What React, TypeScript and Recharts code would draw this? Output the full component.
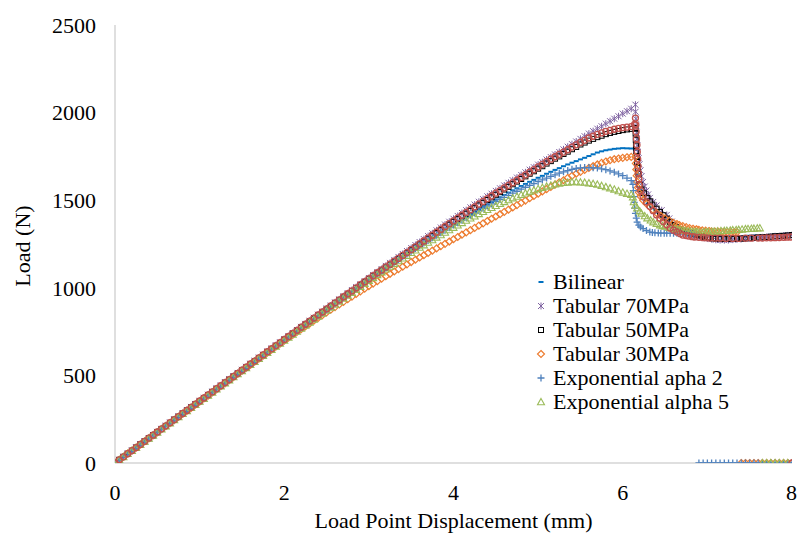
import React from "react";
import { ScatterChart, Scatter, XAxis, YAxis, Legend, Label } from "recharts";

// Rising branch: shared displacement stations (mm), every 0.05 mm
const disp = [
  0, 0.05, 0.1, 0.15, 0.2, 0.25, 0.3, 0.35, 0.4, 0.45, 0.5, 0.55, 0.6, 0.65, 0.7, 0.75,
  0.8, 0.85, 0.9, 0.95, 1.0, 1.05, 1.1, 1.15, 1.2, 1.25, 1.3, 1.35, 1.4, 1.45, 1.5, 1.55,
  1.6, 1.65, 1.7, 1.75, 1.8, 1.85, 1.9, 1.95, 2.0, 2.05, 2.1, 2.15, 2.2, 2.25, 2.3, 2.35,
  2.4, 2.45, 2.5, 2.55, 2.6, 2.65, 2.7, 2.75, 2.8, 2.85, 2.9, 2.95, 3.0, 3.05, 3.1, 3.15,
  3.2, 3.25, 3.3, 3.35, 3.4, 3.45, 3.5, 3.55, 3.6, 3.65, 3.7, 3.75, 3.8, 3.85, 3.9, 3.95,
  4.0, 4.05, 4.1, 4.15, 4.2, 4.25, 4.3, 4.35, 4.4, 4.45, 4.5, 4.55, 4.6, 4.65, 4.7, 4.75,
  4.8, 4.85, 4.9, 4.95, 5.0, 5.05, 5.1, 5.15, 5.2, 5.25, 5.3, 5.35, 5.4, 5.45, 5.5, 5.55,
  5.6, 5.65, 5.7, 5.75, 5.8, 5.85, 5.9, 5.95, 6.0, 6.05, 6.1,
];

// Loads (N) on the rising branch, one per displacement station
const bilinearLoad = [
  0, 18, 35, 53, 70, 88, 105, 123, 141, 158, 176, 193, 211, 228, 246, 263, 281, 298,
  316, 333, 351, 368, 386, 403, 421, 438, 456, 473, 491, 508, 526, 543, 561, 578, 596,
  613, 631, 648, 666, 683, 701, 718, 736, 753, 771, 788, 805, 822, 840, 857, 874, 891,
  909, 926, 943, 960, 977, 994, 1011, 1028, 1045, 1062, 1079, 1095, 1112, 1128, 1145,
  1161, 1178, 1194, 1210, 1225, 1241, 1256, 1272, 1287, 1302, 1317, 1332, 1347, 1362,
  1376, 1391, 1405, 1420, 1434, 1448, 1462, 1476, 1489, 1503, 1516, 1530, 1543, 1556,
  1568, 1581, 1593, 1605, 1616, 1628, 1639, 1651, 1662, 1673, 1683, 1694, 1704, 1714,
  1723, 1733, 1742, 1752, 1762, 1772, 1779, 1785, 1789, 1793, 1795, 1797, 1796, 1795,
];
const tab70Load = [
  0, 18, 36, 53, 71, 89, 107, 124, 142, 160, 178, 195, 213, 231, 249, 266, 284, 302,
  320, 337, 355, 372, 390, 408, 426, 443, 461, 478, 496, 514, 532, 549, 567, 584, 602,
  619, 637, 654, 672, 689, 707, 724, 742, 759, 777, 794, 812, 829, 847, 864, 882, 899,
  917, 934, 952, 969, 987, 1004, 1021, 1038, 1056, 1073, 1090, 1107, 1125, 1142, 1159,
  1176, 1193, 1210, 1227, 1244, 1261, 1278, 1295, 1311, 1328, 1344, 1361, 1377, 1394,
  1410, 1427, 1443, 1459, 1475, 1491, 1506, 1522, 1537, 1553, 1568, 1584, 1599, 1614,
  1629, 1644, 1659, 1674, 1688, 1703, 1717, 1732, 1746, 1761, 1775, 1790, 1805, 1820,
  1835, 1850, 1865, 1880, 1894, 1908, 1922, 1937, 1951, 1965, 1979, 1994, 2008, 2022,
];
const tab50Load = [
  0, 18, 35, 53, 70, 88, 106, 123, 141, 158, 176, 194, 211, 229, 247, 264, 282, 299,
  317, 335, 352, 370, 387, 405, 423, 440, 458, 475, 493, 510, 528, 545, 563, 580, 598,
  615, 633, 650, 668, 685, 703, 720, 738, 755, 773, 790, 808, 825, 843, 860, 877, 894,
  912, 929, 946, 963, 981, 998, 1015, 1032, 1049, 1066, 1083, 1099, 1116, 1132, 1149,
  1165, 1182, 1198, 1215, 1231, 1248, 1264, 1281, 1297, 1313, 1329, 1345, 1361, 1377,
  1392, 1408, 1423, 1439, 1454, 1470, 1485, 1501, 1516, 1531, 1546, 1561, 1576, 1591,
  1606, 1621, 1636, 1651, 1665, 1680, 1694, 1709, 1723, 1737, 1750, 1764, 1777, 1791,
  1804, 1818, 1829, 1840, 1850, 1860, 1868, 1877, 1884, 1890, 1895, 1900, 1904, 1907,
];
const tab30Load = [
  0, 18, 35, 53, 70, 88, 105, 123, 140, 158, 175, 193, 210, 228, 245, 263, 280, 298,
  315, 333, 350, 368, 385, 403, 420, 438, 455, 473, 490, 508, 525, 543, 560, 578, 595,
  613, 630, 647, 664, 681, 698, 715, 731, 748, 764, 780, 796, 812, 828, 844, 859, 875,
  890, 905, 920, 935, 950, 965, 980, 995, 1010, 1024, 1038, 1052, 1066, 1080, 1093,
  1107, 1120, 1134, 1147, 1160, 1173, 1186, 1199, 1212, 1225, 1238, 1251, 1264, 1277,
  1290, 1303, 1316, 1329, 1342, 1355, 1368, 1381, 1394, 1407, 1420, 1433, 1446, 1459,
  1472, 1485, 1498, 1511, 1524, 1537, 1550, 1563, 1576, 1589, 1602, 1614, 1627, 1639,
  1651, 1662, 1673, 1684, 1694, 1704, 1713, 1721, 1728, 1734, 1738, 1742, 1745, 1747,
];
const exp2Load = [
  0, 18, 35, 53, 70, 88, 106, 123, 141, 158, 176, 193, 211, 228, 246, 264, 281, 299,
  317, 334, 352, 369, 387, 404, 422, 439, 457, 474, 492, 509, 527, 544, 562, 579, 597,
  614, 632, 649, 667, 684, 702, 719, 737, 754, 772, 789, 806, 823, 841, 858, 875, 892,
  910, 927, 944, 961, 978, 995, 1012, 1029, 1046, 1063, 1080, 1096, 1113, 1129, 1146,
  1162, 1178, 1193, 1209, 1224, 1240, 1255, 1270, 1285, 1300, 1314, 1329, 1343, 1358,
  1372, 1386, 1400, 1414, 1427, 1441, 1454, 1467, 1479, 1492, 1504, 1516, 1528, 1540,
  1551, 1563, 1574, 1585, 1595, 1606, 1616, 1626, 1636, 1645, 1654, 1662, 1669, 1676,
  1681, 1685, 1686, 1686, 1685, 1684, 1679, 1674, 1667, 1660, 1650, 1640, 1626, 1612,
];
const exp5Load = [
  0, 18, 35, 53, 70, 88, 105, 123, 140, 158, 175, 193, 211, 228, 246, 263, 281, 298,
  316, 333, 351, 368, 386, 403, 421, 438, 456, 473, 491, 508, 526, 543, 561, 578, 596,
  613, 630, 647, 665, 682, 700, 717, 734, 751, 768, 785, 803, 820, 837, 854, 871, 888,
  905, 922, 939, 956, 973, 990, 1007, 1024, 1041, 1057, 1074, 1090, 1106, 1122, 1138,
  1153, 1169, 1184, 1200, 1215, 1230, 1244, 1259, 1273, 1288, 1302, 1316, 1330, 1344,
  1357, 1371, 1384, 1397, 1409, 1422, 1434, 1446, 1457, 1469, 1480, 1491, 1501, 1512,
  1521, 1531, 1540, 1549, 1557, 1565, 1572, 1579, 1585, 1591, 1596, 1600, 1602, 1604,
  1604, 1603, 1601, 1598, 1594, 1590, 1583, 1576, 1569, 1562, 1553, 1545, 1538, 1532,
];
const series7Load = [
  0, 18, 35, 53, 71, 88, 106, 124, 142, 159, 177, 195, 212, 230, 248, 265, 283, 300,
  318, 336, 354, 371, 389, 406, 424, 441, 459, 476, 494, 512, 530, 547, 565, 582, 600,
  617, 635, 652, 670, 687, 705, 722, 740, 757, 775, 792, 810, 827, 845, 862, 880, 897,
  914, 931, 949, 966, 983, 1000, 1018, 1035, 1052, 1069, 1086, 1102, 1119, 1135, 1152,
  1168, 1185, 1201, 1218, 1234, 1251, 1267, 1284, 1300, 1317, 1333, 1350, 1366, 1382,
  1398, 1414, 1430, 1446, 1462, 1478, 1493, 1509, 1524, 1540, 1555, 1570, 1585, 1600,
  1615, 1630, 1645, 1660, 1675, 1690, 1705, 1720, 1734, 1748, 1761, 1774, 1788, 1803,
  1816, 1830, 1842, 1855, 1865, 1876, 1884, 1893, 1899, 1905, 1910, 1914, 1917, 1920,
];

// Softening branches as [displacement, load]
const bilinearTail: [number, number][] = [
  [6.15, 1787], [6.16, 1700], [6.17, 1650], [6.18, 1600], [6.2, 1562],
  [6.22, 1530], [6.26, 1503], [6.3, 1480], [6.35, 1454], [6.4, 1430],
  [6.45, 1409], [6.5, 1390], [6.55, 1372], [6.6, 1355], [6.65, 1342],
  [6.7, 1330], [6.75, 1322], [6.8, 1315], [6.85, 1310], [6.9, 1305],
  [6.95, 1301], [7.0, 1298], [7.05, 1296], [7.1, 1295], [7.15, 1294],
  [7.2, 1294], [7.25, 1294], [7.3, 1294], [7.35, 1294], [7.4, 1295],
  [7.45, 1296], [7.5, 1297], [7.55, 1298], [7.6, 1299], [7.65, 1300],
  [7.7, 1301], [7.75, 1302], [7.8, 1304], [7.85, 1305], [7.9, 1307],
  [7.95, 1308], [8.0, 1310],
];
const tab70Tail: [number, number][] = [
  [6.15, 2045], [6.152, 2005], [6.155, 1965], [6.158, 1925], [6.162, 1885],
  [6.166, 1848], [6.17, 1812], [6.178, 1775], [6.188, 1740], [6.198, 1705],
  [6.21, 1670], [6.222, 1637], [6.24, 1604], [6.26, 1578], [6.28, 1555],
  [6.3, 1533], [6.32, 1513], [6.36, 1490], [6.4, 1470], [6.46, 1443],
  [6.52, 1416], [6.55, 1396], [6.58, 1378], [6.61, 1360], [6.64, 1341],
  [6.67, 1333], [6.7, 1325], [6.73, 1318], [6.77, 1310], [6.8, 1305],
  [6.83, 1301], [6.87, 1296], [6.9, 1292], [6.95, 1287], [7.0, 1282],
  [7.05, 1278], [7.1, 1274], [7.15, 1273], [7.2, 1272], [7.25, 1273],
  [7.3, 1275], [7.35, 1277], [7.4, 1279], [7.45, 1281], [7.5, 1284],
  [7.55, 1285], [7.6, 1287], [7.65, 1288], [7.7, 1290], [7.75, 1292],
  [7.8, 1294], [7.85, 1295], [7.9, 1297], [7.95, 1299], [8.0, 1301],
];
const tab50Tail: [number, number][] = [
  [6.15, 1912], [6.152, 1880], [6.154, 1845], [6.156, 1812], [6.16, 1780],
  [6.165, 1750], [6.17, 1718], [6.177, 1685], [6.185, 1652], [6.192, 1620],
  [6.2, 1587], [6.22, 1562], [6.25, 1540], [6.29, 1513], [6.32, 1494],
  [6.35, 1475], [6.4, 1452], [6.44, 1433], [6.48, 1414], [6.52, 1395],
  [6.56, 1376], [6.59, 1358], [6.63, 1346], [6.67, 1335], [6.72, 1326],
  [6.76, 1318], [6.8, 1313], [6.83, 1308], [6.87, 1304], [6.9, 1300],
  [6.94, 1295], [6.97, 1291], [7.0, 1287], [7.03, 1284], [7.07, 1282],
  [7.1, 1281], [7.15, 1280], [7.2, 1279], [7.25, 1279], [7.3, 1279],
  [7.35, 1280], [7.4, 1281], [7.45, 1282], [7.5, 1284], [7.55, 1285],
  [7.6, 1287], [7.65, 1288], [7.7, 1290], [7.75, 1292], [7.8, 1294],
  [7.85, 1295], [7.9, 1297], [7.95, 1299], [8.0, 1301],
];
const tab30Tail: [number, number][] = [
  [6.15, 1748], [6.155, 1710], [6.16, 1675], [6.165, 1640], [6.17, 1605],
  [6.18, 1572], [6.19, 1545], [6.21, 1522], [6.24, 1500], [6.28, 1480],
  [6.32, 1462], [6.36, 1444], [6.4, 1427], [6.45, 1410], [6.5, 1396],
  [6.55, 1383], [6.6, 1371], [6.64, 1364], [6.67, 1358], [6.71, 1352],
  [6.75, 1346], [6.79, 1341], [6.83, 1337], [6.87, 1334], [6.9, 1331],
  [6.94, 1328], [6.98, 1326], [7.02, 1324], [7.05, 1322], [7.09, 1321],
  [7.13, 1320], [7.17, 1319], [7.2, 1318], [7.24, 1318], [7.28, 1318],
  [7.32, 1318], [7.35, 1318], [7.4, 0], [7.45, 0], [7.5, 0], [7.55, 0],
  [7.6, 0], [7.65, 0], [7.7, 0], [7.75, 0], [7.8, 0], [7.85, 0], [7.9, 0],
  [7.95, 0], [8.0, 0],
];
const exp2Tail: [number, number][] = [
  [6.12, 1590], [6.125, 1555], [6.13, 1520], [6.135, 1488], [6.14, 1455],
  [6.15, 1425], [6.16, 1398], [6.17, 1375], [6.19, 1358], [6.21, 1347],
  [6.24, 1338], [6.28, 1327], [6.32, 1318], [6.35, 1316], [6.38, 1314],
  [6.42, 1313], [6.45, 1312], [6.49, 1312], [6.52, 1312], [6.56, 1311],
  [6.6, 1311], [6.64, 1311], [6.68, 1310], [6.72, 1310], [6.76, 1310],
  [6.8, 1310], [6.84, 1310], [6.9, 0], [6.95, 0], [7.0, 0], [7.05, 0],
  [7.1, 0], [7.15, 0], [7.2, 0], [7.25, 0], [7.3, 0], [7.35, 0], [7.4, 0],
  [7.45, 0], [7.5, 0], [7.55, 0], [7.6, 0], [7.65, 0], [7.7, 0], [7.75, 0],
  [7.8, 0], [7.85, 0], [7.9, 0], [7.95, 0], [8.0, 0],
];
const exp5Tail: [number, number][] = [
  [6.12, 1518], [6.13, 1490], [6.15, 1470], [6.17, 1455], [6.2, 1438],
  [6.22, 1425], [6.26, 1410], [6.29, 1398], [6.33, 1386], [6.36, 1375],
  [6.4, 1366], [6.44, 1358], [6.47, 1354], [6.5, 1350], [6.55, 1343],
  [6.58, 1340], [6.62, 1336], [6.65, 1333], [6.68, 1330], [6.71, 1328],
  [6.74, 1326], [6.77, 1324], [6.8, 1322], [6.83, 1321], [6.86, 1320],
  [6.88, 1319], [6.91, 1318], [6.95, 1318], [6.98, 1319], [7.01, 1320],
  [7.05, 1321], [7.08, 1322], [7.12, 1323], [7.16, 1325], [7.2, 1326],
  [7.23, 1327], [7.27, 1328], [7.3, 1330], [7.34, 1331], [7.37, 1332],
  [7.41, 1334], [7.45, 1336], [7.48, 1337], [7.52, 1338], [7.55, 1339],
  [7.59, 1340], [7.62, 1341], [7.65, 0], [7.7, 0], [7.75, 0], [7.8, 0],
  [7.85, 0], [7.9, 0], [7.95, 0],
];
const series7Tail: [number, number][] = [
  [6.14, 1932], [6.15, 1969], [6.155, 1930], [6.158, 1890], [6.162, 1850],
  [6.168, 1815], [6.172, 1775], [6.177, 1735], [6.181, 1695], [6.185, 1655],
  [6.19, 1620], [6.195, 1587], [6.21, 1555], [6.24, 1520], [6.28, 1490],
  [6.32, 1465], [6.36, 1440], [6.4, 1416], [6.44, 1397], [6.48, 1378],
  [6.52, 1360], [6.56, 1341], [6.6, 1329], [6.64, 1318], [6.68, 1309],
  [6.71, 1301], [6.75, 1298], [6.78, 1295], [6.82, 1292], [6.85, 1290],
  [6.9, 1288], [6.95, 1286], [6.99, 1285], [7.03, 1284], [7.09, 1283],
  [7.15, 1283], [7.22, 1282], [7.3, 1282], [7.37, 1282], [7.45, 1283],
  [7.52, 1283], [7.6, 1284], [7.65, 1284], [7.7, 1285], [7.75, 1285],
  [7.8, 1286], [7.85, 1287], [7.9, 1288], [7.94, 1289], [7.98, 1290],
  [8.0, 0],
];

const xTicks = [0, 2, 4, 6, 8];
const yTicks = [0, 500, 1000, 1500, 2000, 2500];

type MarkerKind = "dash" | "star" | "square" | "diamond" | "plus" | "triangle" | "circle";

const SERIES: {
  name: string;
  rise: number[];
  tail: [number, number][];
  color: string;
  marker: MarkerKind;
  inLegend: boolean;
}[] = [
  { name: "Bilinear", rise: bilinearLoad, tail: bilinearTail, color: "#0070C0", marker: "dash", inLegend: true },
  { name: "Tabular 70MPa", rise: tab70Load, tail: tab70Tail, color: "#8064A2", marker: "star", inLegend: true },
  { name: "Tabular 50MPa", rise: tab50Load, tail: tab50Tail, color: "#000000", marker: "square", inLegend: true },
  { name: "Tabular 30MPa", rise: tab30Load, tail: tab30Tail, color: "#ED7D31", marker: "diamond", inLegend: true },
  { name: "Exponential apha 2", rise: exp2Load, tail: exp2Tail, color: "#4F81BD", marker: "plus", inLegend: true },
  { name: "Exponential alpha 5", rise: exp5Load, tail: exp5Tail, color: "#9BBB59", marker: "triangle", inLegend: true },
  { name: "Series7", rise: series7Load, tail: series7Tail, color: "#C0504D", marker: "circle", inLegend: false },
];

const FONT = "'Liberation Serif', 'Times New Roman', serif";
const W = 797;
const H = 534;

const Marker = ({ kind, color, cx, cy }: { kind: MarkerKind; color: string; cx: number; cy: number }) => {
  switch (kind) {
    case "dash":
      return <rect x={cx - 2.5} y={cy - 1} width={5} height={2} fill={color} />;
    case "star":
      return (
        <path
          d={`M${cx - 3},${cy - 3}L${cx + 3},${cy + 3}M${cx - 3},${cy + 3}L${cx + 3},${cy - 3}M${cx},${cy - 3.5}L${cx},${cy + 3.5}`}
          stroke={color}
          strokeWidth={1}
          fill="none"
        />
      );
    case "square":
      return <rect x={cx - 2.5} y={cy - 2.5} width={5} height={5} stroke={color} strokeWidth={1} fill="none" />;
    case "diamond":
      return (
        <path
          d={`M${cx},${cy - 3.5}L${cx + 3.5},${cy}L${cx},${cy + 3.5}L${cx - 3.5},${cy}Z`}
          stroke={color}
          strokeWidth={1.2}
          fill="none"
        />
      );
    case "plus":
      return (
        <path
          d={`M${cx - 3.5},${cy}L${cx + 3.5},${cy}M${cx},${cy - 3.5}L${cx},${cy + 3.5}`}
          stroke={color}
          strokeWidth={1.3}
          fill="none"
        />
      );
    case "triangle":
      return (
        <path
          d={`M${cx},${cy - 3.5}L${cx + 3.5},${cy + 2.8}L${cx - 3.5},${cy + 2.8}Z`}
          stroke={color}
          strokeWidth={1.1}
          fill="none"
        />
      );
    case "circle":
    default:
      return <circle cx={cx} cy={cy} r={3} stroke={color} strokeWidth={1.3} fill="none" />;
  }
};

const toPoints = (rise: number[], tail: [number, number][]) => [
  ...rise.map((y, i) => ({ x: disp[i], y })),
  ...tail.map(([x, y]) => ({ x, y })),
];

const renderLegend = () => (
  <div style={{ fontFamily: FONT, fontSize: 22, color: "#000" }}>
    {SERIES.filter((s) => s.inLegend).map((s) => (
      <div key={s.name} style={{ display: "flex", alignItems: "center", height: 24, whiteSpace: "nowrap" }}>
        <svg width={14} height={12} style={{ marginRight: 4 }}>
          <Marker kind={s.marker} color={s.color} cx={6} cy={6} />
        </svg>
        <span>{s.name}</span>
      </div>
    ))}
  </div>
);

const App: React.FC = () => {
  const tickStyle = { fontFamily: FONT, fontSize: 22, fill: "#000" };
  return (
    <div style={{ width: W, height: H, position: "relative", background: "#fff" }}>
      <style>{"body { margin: 0; }"}</style>
      <ScatterChart width={W} height={H} margin={{ top: 25, right: 5, bottom: 0, left: 0 }}>
        <XAxis
          type="number"
          dataKey="x"
          domain={[0, 8]}
          ticks={xTicks}
          allowDataOverflow
          height={71}
          tickLine={false}
          tickSize={0}
          tickMargin={21}
          axisLine={{ stroke: "#BFBFBF" }}
          tick={tickStyle}
        >
          <Label
            value="Load Point Displacement (mm)"
            position="insideBottom"
            offset={6}
            style={{ fontFamily: FONT, fontSize: 22, fill: "#000" }}
          />
        </XAxis>
        <YAxis
          type="number"
          dataKey="y"
          domain={[0, 2500]}
          ticks={yTicks}
          allowDataOverflow
          width={115}
          tickLine={false}
          tickSize={0}
          tickMargin={19}
          axisLine={{ stroke: "#BFBFBF" }}
          tick={tickStyle}
        >
          <Label
            content={() => (
              <text
                x={22}
                y={246}
                transform="rotate(-90 22 246)"
                textAnchor="middle"
                dominantBaseline="central"
                style={{ fontFamily: FONT, fontSize: 22, fill: "#000" }}
              >
                Load (N)
              </text>
            )}
          />
        </YAxis>
        <Legend
          layout="vertical"
          align="center"
          verticalAlign="middle"
          content={renderLegend}
          wrapperStyle={{ left: 535, top: 270, width: 260 }}
        />
        {SERIES.map((s) => (
          <Scatter
            key={s.name}
            name={s.name}
            data={toPoints(s.rise, s.tail)}
            fill={s.color}
            legendType={s.inLegend ? "circle" : "none"}
            isAnimationActive={false}
            shape={(p: any) => <Marker kind={s.marker} color={s.color} cx={p.cx} cy={p.cy} />}
          />
        ))}
      </ScatterChart>
    </div>
  );
};

export default App;
